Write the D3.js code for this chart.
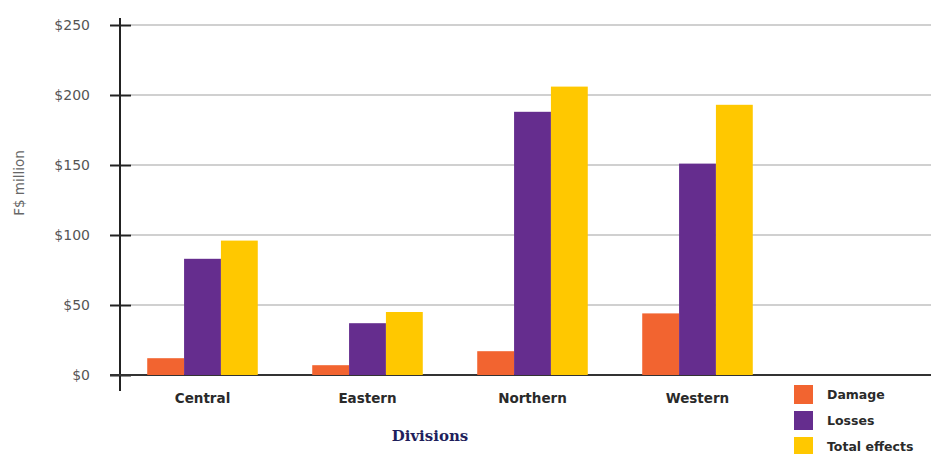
<!DOCTYPE html>
<html>
<head>
<meta charset="utf-8">
<script src="https://cdn.jsdelivr.net/npm/d3@7"></script>
<style>
body { margin: 0; background: #fff; }
svg { display: block; }
</style>
</head>
<body>
<script>
var divisions = ["Central", "Eastern", "Northern", "Western"];
var seriesNames = ["Damage", "Losses", "Total effects"];
var damage = [12, 7, 17, 44];
var losses = [83, 37, 188, 151];
var totalEffects = [96, 45, 206, 193];
var yTicks = [0, 50, 100, 150, 200, 250];
var colors = ["#f26430", "#652d8e", "#ffc800"];

var loadAxis = function(svg, xScale, yScale){
    // gridlines
    svg.append("g").selectAll("line").data(yTicks.filter(function(d){ return d > 0; })).enter()
        .append("line")
        .attr("x1", 131).attr("x2", 931)
        .attr("y1", function(d){ return yScale(d); })
        .attr("y2", function(d){ return yScale(d); })
        .attr("stroke", "#d0d0d0").attr("stroke-width", 2);

    var yAxis = d3.axisLeft(yScale).tickValues(yTicks)
        .tickFormat(function(d){ return "$" + d; })
        .tickSize(10).tickPadding(20);
    var gy = svg.append("g")
        .attr("transform", "translate(120,0)")
        .call(yAxis);
    gy.select(".domain").remove();
    gy.selectAll(".tick line").attr("x2", 11).attr("x1", -10)
        .attr("stroke", "#222").attr("stroke-width", 2);
    gy.selectAll(".tick text")
        .attr("x", -30)
        .style("font-family", "'DejaVu Sans', sans-serif")
        .style("font-size", "14px")
        .attr("fill", "#555");

    svg.append("line")
        .attr("x1", 120).attr("x2", 120).attr("y1", 18).attr("y2", 391)
        .attr("stroke", "#222").attr("stroke-width", 2);
    svg.append("line")
        .attr("x1", 110).attr("x2", 931).attr("y1", yScale(0)).attr("y2", yScale(0))
        .attr("stroke", "#333").attr("stroke-width", 2);

    svg.append("g").selectAll("text").data(divisions).enter()
        .append("text")
        .attr("x", function(d){ return xScale(d) + xScale.bandwidth() / 2; })
        .attr("y", 403)
        .attr("text-anchor", "middle")
        .style("font-family", "'DejaVu Sans', sans-serif")
        .style("font-size", "13.5px").style("font-weight", "bold")
        .attr("fill", "#2a2a2a")
        .text(function(d){ return d; });

    svg.append("text")
        .attr("transform", "translate(24,183) rotate(-90)")
        .attr("text-anchor", "middle")
        .style("font-family", "'DejaVu Sans', sans-serif")
        .style("font-size", "13.5px")
        .attr("fill", "#666")
        .text("F$ million");

    svg.append("text")
        .attr("x", 430).attr("y", 441)
        .attr("text-anchor", "middle")
        .style("font-family", "'DejaVu Serif', serif")
        .style("font-size", "15px").style("font-weight", "bold")
        .attr("fill", "#1f1f5c")
        .text("Divisions");
}

var loadBars = function(svg, xScale, yScale){
    var series = [damage, losses, totalEffects];
    var inner = d3.scaleBand().domain(d3.range(series.length)).range([0, xScale.bandwidth()]);
    var rows = divisions.map(function(d, i){
        return series.map(function(s, j){ return {div: d, k: j, v: s[i]}; });
    });
    svg.append("g").selectAll("g").data(rows).enter().append("g")
        .attr("transform", function(r){ return "translate(" + xScale(r[0].div) + ",0)"; })
        .selectAll("rect").data(function(r){ return r; }).enter().append("rect")
        .attr("x", function(d){ return inner(d.k); })
        .attr("width", inner.bandwidth())
        .attr("y", function(d){ return yScale(d.v); })
        .attr("height", function(d){ return yScale(0) - yScale(d.v); })
        .attr("fill", function(d){ return colors[d.k]; });
}

var loadLegend = function(svg){
    var g = svg.append("g").selectAll("g").data(seriesNames).enter().append("g")
        .attr("transform", function(d, i){ return "translate(794," + (385 + i * 26) + ")"; });
    g.append("rect").attr("width", 19).attr("height", 19)
        .attr("fill", function(d, i){ return colors[i]; });
    g.append("text").attr("x", 33).attr("y", 14)
        .style("font-family", "'DejaVu Sans', sans-serif")
        .style("font-size", "12.5px").style("font-weight", "bold")
        .attr("fill", "#2a2a2a")
        .text(function(d){ return d; });
}

var loadGraph = function(){
    var xScale = d3.scaleBand().domain(divisions).range([120, 780])
        .paddingInner(0.33).paddingOuter(0.165);
    var yScale = d3.scaleLinear().domain([0, 250]).range([375, 25]);
    var svg = d3.select("body").append("svg")
        .attr("width", 931).attr("height", 454);
    loadAxis(svg, xScale, yScale);
    loadBars(svg, xScale, yScale);
    loadLegend(svg);
}

window.onload = loadGraph;
</script>
</body>
</html>
